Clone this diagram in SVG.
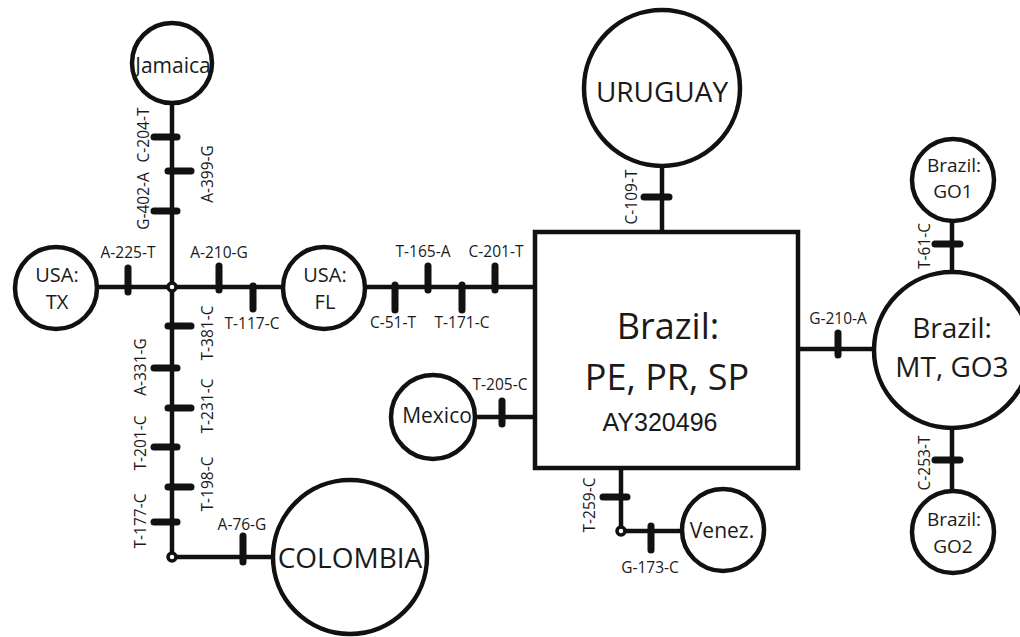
<svg xmlns="http://www.w3.org/2000/svg" width="1020" height="637" viewBox="0 0 1020 637">
<style>
.node{fill:#fff;stroke:#111;stroke-width:4.5}
.edge{stroke:#111;stroke-width:4.5;fill:none}
.tick{stroke:#111;stroke-width:7;stroke-linecap:round}
.jn{fill:#fff;stroke:#111;stroke-width:3.5}
text{font-family:"Open Sans","Noto Sans","DejaVu Sans",sans-serif;fill:#1a1a1a;text-anchor:middle}
.lab{font-size:15.5px}
.n21{font-size:21px}
.n20{font-size:20px}
.n19{font-size:19px}
.big{font-size:28px}
.box{font-size:36px}
.acc{font-family:"Liberation Sans",Arial,sans-serif;font-size:25px}
</style>
<rect width="1020" height="637" fill="#fff"/>
<g id="connectors">
<path class="edge" d="M172 103V557H273"/>
<path class="edge" d="M97 287H283"/>
<path class="edge" d="M365 287H535"/>
<path class="edge" d="M662 166V232"/>
<path class="edge" d="M475 417H535"/>
<path class="edge" d="M621 468V531H682"/>
<path class="edge" d="M798 349H874"/>
<path class="edge" d="M952 221V272"/>
<path class="edge" d="M952 428V490"/>
<line class="tick" x1="154" y1="137" x2="177" y2="137"/>
<line class="tick" x1="168" y1="171" x2="191" y2="171"/>
<line class="tick" x1="154" y1="211" x2="177" y2="211"/>
<line class="tick" x1="168" y1="326" x2="191" y2="326"/>
<line class="tick" x1="154" y1="368" x2="177" y2="368"/>
<line class="tick" x1="168" y1="408" x2="191" y2="408"/>
<line class="tick" x1="154" y1="447" x2="177" y2="447"/>
<line class="tick" x1="168" y1="487" x2="191" y2="487"/>
<line class="tick" x1="154" y1="522" x2="177" y2="522"/>
<line class="tick" x1="128" y1="268" x2="128" y2="292"/>
<line class="tick" x1="219" y1="266" x2="219" y2="290"/>
<line class="tick" x1="253" y1="286" x2="253" y2="309"/>
<line class="tick" x1="395" y1="285" x2="395" y2="310"/>
<line class="tick" x1="428" y1="266" x2="428" y2="290"/>
<line class="tick" x1="462" y1="285" x2="462" y2="310"/>
<line class="tick" x1="495" y1="266" x2="495" y2="290"/>
<line class="tick" x1="243" y1="536" x2="243" y2="562"/>
<line class="tick" x1="502" y1="401" x2="502" y2="424"/>
<line class="tick" x1="838" y1="333" x2="838" y2="355"/>
<line class="tick" x1="651" y1="526" x2="651" y2="550"/>
<line class="tick" x1="644" y1="197" x2="669" y2="197"/>
<line class="tick" x1="935" y1="244" x2="960" y2="244"/>
<line class="tick" x1="935" y1="460" x2="960" y2="460"/>
<line class="tick" x1="603" y1="497" x2="627" y2="497"/>
<circle class="jn" cx="172" cy="287" r="4"/>
<circle class="jn" cx="172" cy="557" r="4"/>
<circle class="jn" cx="621" cy="531" r="4"/>
</g>
<g id="labels">
<text class="lab" transform="translate(148.5 135) rotate(-90)">C-204-T</text>
<text class="lab" transform="translate(148.5 201) rotate(-90)">G-402-A</text>
<text class="lab" transform="translate(213 174) rotate(-90)">A-399-G</text>
<text class="lab" transform="translate(213 333) rotate(-90)">T-381-C</text>
<text class="lab" transform="translate(146 367) rotate(-90)">A-331-G</text>
<text class="lab" transform="translate(213 406) rotate(-90)">T-231-C</text>
<text class="lab" transform="translate(146 443) rotate(-90)">T-201-C</text>
<text class="lab" transform="translate(213 484) rotate(-90)">T-198-C</text>
<text class="lab" transform="translate(146 521) rotate(-90)">T-177-C</text>
<text class="lab" transform="translate(637 197) rotate(-90)">C-109-T</text>
<text class="lab" transform="translate(930 246) rotate(-90)">T-61-C</text>
<text class="lab" transform="translate(930 463) rotate(-90)">C-253-T</text>
<text class="lab" transform="translate(595 505) rotate(-90)">T-259-C</text>
<text class="lab" x="128" y="258">A-225-T</text>
<text class="lab" x="219" y="258">A-210-G</text>
<text class="lab" x="252" y="329">T-117-C</text>
<text class="lab" x="423" y="257">T-165-A</text>
<text class="lab" x="496" y="257">C-201-T</text>
<text class="lab" x="393" y="328">C-51-T</text>
<text class="lab" x="462" y="328">T-171-C</text>
<text class="lab" x="242" y="530">A-76-G</text>
<text class="lab" x="500" y="390">T-205-C</text>
<text class="lab" x="838" y="324">G-210-A</text>
<text class="lab" x="650" y="573">G-173-C</text>
</g>
<g id="jamaica"><circle class="node" cx="172" cy="63" r="40"/><text class="n21" x="173" y="73">Jamaica</text></g>
<g id="usa-tx"><circle class="node" cx="56" cy="288" r="41"/><text class="n20" x="57" y="282">USA:</text><text class="n20" x="57" y="309">TX</text></g>
<g id="usa-fl"><circle class="node" cx="324" cy="288" r="41"/><text class="n20" x="325" y="282">USA:</text><text class="n20" x="325" y="309">FL</text></g>
<g id="colombia"><circle class="node" cx="350" cy="557" r="77"/><text class="big" x="350" y="568">COLOMBIA</text></g>
<g id="uruguay"><circle class="node" cx="662" cy="88" r="78"/><text class="big" x="662" y="102">URUGUAY</text></g>
<g id="mexico"><circle class="node" cx="433" cy="417" r="42"/><text class="n21" x="437" y="423">Mexico</text></g>
<g id="venez"><circle class="node" cx="723" cy="530" r="41"/><text class="n21" x="722" y="538">Venez.</text></g>
<g id="brazil-pe-pr-sp"><rect class="node" x="535" y="232" width="263" height="236"/><text class="box" x="668" y="339">Brazil:</text><text class="box" x="667" y="390">PE, PR, SP</text><text class="acc" x="660" y="431">AY320496</text></g>
<g id="brazil-mt-go3"><circle class="node" cx="952" cy="350" r="78"/><text class="big" x="952" y="338">Brazil:</text><text class="big" x="952" y="377">MT, GO3</text></g>
<g id="brazil-go1"><circle class="node" cx="953" cy="180" r="41"/><text class="n19" x="954" y="172">Brazil:</text><text class="n19" x="953" y="198">GO1</text></g>
<g id="brazil-go2"><circle class="node" cx="953" cy="532" r="41"/><text class="n19" x="954" y="526">Brazil:</text><text class="n19" x="953" y="553">GO2</text></g>
</svg>
